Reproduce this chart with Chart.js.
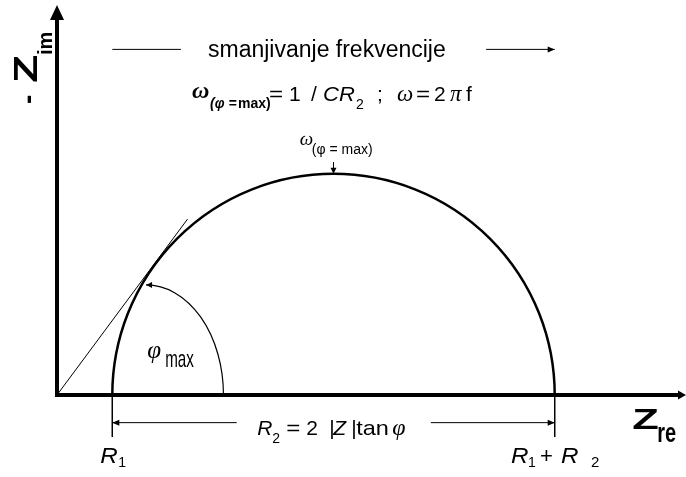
<!DOCTYPE html>
<html>
<head>
<meta charset="utf-8">
<style>
  html, body { margin: 0; padding: 0; background: #fff; }
  canvas { display: block; }
</style>
<script src="https://cdn.jsdelivr.net/npm/chart.js@4.4.1/dist/chart.umd.min.js"></script>
</head>
<body>
<canvas id="chart" width="686" height="477"></canvas>
<script>
// values, in axis units
const R1 = 10;
const R2 = 80;
const zReRange = [0, 113.74];
const zImRange = [0, 71.43];
// tangent from the origin to the semicircle (Zre, -Zim)
const tangentZre = [0, 23.6];
const tangentZim = [0, 31.8];
// angle mark for phi max: centre on Zre, half width, half height
const phiArc = [16.1, 14.0, 19.9];
// where the marker lines under the axis stop, and the dimension line level
const markerDepth = -7.6;
const dimLevel = -5;
const dimGap = [32.5, 67.6];
// "smanjivanje frekvencije" line level and its two pieces
const freqLevel = 62.5;
const freqGap = [22.4, 77.6];
// top of the semicircle arrow
const omegaTick = [42.1, 40.3];

const SANS = '"Liberation Sans", Arial, sans-serif';
const SERIF = '"Liberation Serif", "Times New Roman", serif';

const seg = (xs, ys) => xs.map((x, i) => ({ x: x, y: ys[i] }));
const line = (data, width, cap) => ({
    data: data,
    showLine: true,
    borderColor: '#000',
    borderWidth: width,
    borderCapStyle: cap || 'butt',
    pointRadius: 0,
    clip: false,
    fill: false,
    tension: 0
});

const datasets = [
    line(seg([0, zReRange[1] - 1.3], [0, 0]), 4, 'square'),
    line(seg([0, 0], [0, zImRange[1] - 3]), 4, 'square'),
    line(seg(tangentZre, tangentZim), 1),
    line(seg([R1, R1], [0, markerDepth]), 1),
    line(seg([R1 + R2, R1 + R2], [0, markerDepth]), 1),
    line(seg([dimGap[0], R1], [dimLevel, dimLevel]), 1),
    line(seg([dimGap[1], R1 + R2], [dimLevel, dimLevel]), 1),
    line(seg([R1, freqGap[0]], [freqLevel, freqLevel]), 1),
    line(seg([freqGap[1], R1 + R2], [freqLevel, freqLevel]), 1),
    line(seg([R1 + R2 / 2, R1 + R2 / 2], omegaTick), 1)
];

// arrow heads: tip (u, v), direction in degrees (0 right, 90 up), length, half width
const heads = [
    [zReRange[1], 0, 0, 8, 4.5],
    [0, zImRange[1] - 0.9, 90, 15, 7],
    [R1, dimLevel, 180, 7, 3],
    [R1 + R2, dimLevel, 0, 7, 3],
    [R1 + R2, freqLevel, 0, 7, 3],
    [R1 + R2 / 2, R2 / 2, 270, 6, 3],
    [phiArc[0], phiArc[2], 180, 6, 3]
];

// text groups: anchor (u, v), pieces [text, dx, dy, font, sx, sy]
const texts = [
    { at: [27.3, 61.1], parts: [['smanjivanje frekvencije', 0, 0, '23px ' + SANS]] },
    { at: [24.41, 53.25], parts: [
        ['ω', 0, -3, 'bold italic 24px ' + SERIF],
        ['(φ =', 18, 7.5, 'bold italic 14px ' + SANS],
        ['max)', 46, 7.5, 'bold 14px ' + SANS],
        ['=', 77, 0, '21px ' + SANS, 1.15, 1],
        ['1', 97, 0, '21px ' + SANS],
        ['/', 119, 0, '21px ' + SANS],
        ['CR', 131, 0, 'italic 21px ' + SANS, 1.05, 1],
        ['2', 164, 8, '14px ' + SANS],
        [';', 185, 0, '21px ' + SANS],
        ['ω', 205, 0, 'italic 23px ' + SERIF],
        ['=', 224, 0, '21px ' + SANS, 1.15, 1],
        ['2', 242, 0, '21px ' + SANS],
        ['π', 258, 0, 'italic 23px ' + SERIF],
        ['f', 274, 0, '21px ' + SANS]
    ] },
    { at: [43.9, 45.2], parts: [
        ['ω', 0, 0, 'italic 19px ' + SERIF],
        ['(φ = max)', 12, 9, '14px ' + SANS]
    ] },
    { at: [16.3, 6.7], parts: [
        ['φ', 0, 0, 'italic 25px ' + SERIF],
        ['max', 18, 9, '16px ' + SANS, 0.95, 1.5]
    ] },
    { at: [36.2, -7.2], parts: [
        ['R', 0, 0, 'italic 21px ' + SANS],
        ['2', 15, 8, '14px ' + SANS],
        ['=', 29, 0, '21px ' + SANS, 1.15, 1],
        ['2', 49, 0, '21px ' + SANS],
        ['|', 72, 0, '21px ' + SANS],
        ['Z', 76, 0, 'italic 21px ' + SANS],
        ['|', 94, 0, '21px ' + SANS],
        ['tan', 99, 0, '21px ' + SANS, 1.12, 1],
        ['φ', 135, 0, 'italic 24px ' + SERIF]
    ] },
    { at: [7.8, -12.3], parts: [
        ['R', 0, 0, 'italic 22px ' + SANS, 1.1, 1],
        ['1', 18, 4, '14px ' + SANS]
    ] },
    { at: [82.1, -12.3], parts: [
        ['R', 0, 0, 'italic 22px ' + SANS, 1.1, 1],
        ['1', 17, 4, '14px ' + SANS],
        ['+', 29, 0, '22px ' + SANS],
        ['R', 50, 0, 'italic 22px ' + SANS, 1.1, 1],
        ['2', 80, 4, '15px ' + SANS]
    ] },
    { at: [104.0, -6.1], parts: [
        ['Z', 0, 0, 'bold 29px ' + SANS, 1.5, 1],
        ['re', 25, 13, 'bold 21px ' + SANS, 0.95, 1.3]
    ] },
    { at: [-3.6, 52.8], rotate: -90, parts: [
        ['-', -1, 0, 'bold 28px ' + SANS],
        ['Z', 20, 0, 'bold 33px ' + SANS, 1.4, 1],
        ['im', 48, 15, 'bold 20px ' + SANS]
    ] }
];

const put = (ctx, s, x, y, font, sx, sy) => {
    ctx.save();
    ctx.translate(x, y);
    ctx.scale(sx || 1, sy || 1);
    ctx.font = font;
    ctx.fillText(s, 0, 0);
    ctx.restore();
};

const annotate = {
    id: 'annotate',
    afterDatasetsDraw(chart) {
        const ctx = chart.ctx;
        const px = u => chart.scales.x.getPixelForValue(u);
        const py = v => chart.scales.y.getPixelForValue(v);
        ctx.save();
        ctx.strokeStyle = '#000';
        ctx.fillStyle = '#000';

        // semicircle between R1 and R1 + R2
        const cx = px(R1 + R2 / 2), cy = py(0);
        ctx.lineWidth = 2.5;
        ctx.beginPath();
        ctx.ellipse(cx, cy, px(R1 + R2) - cx, cy - py(R2 / 2), 0, Math.PI, 2 * Math.PI);
        ctx.stroke();

        // angle mark
        const ax = px(phiArc[0]);
        ctx.lineWidth = 1.2;
        ctx.beginPath();
        ctx.ellipse(ax, cy, px(phiArc[0] + phiArc[1]) - ax, cy - py(phiArc[2]), 0, 0, -Math.PI / 2, true);
        ctx.stroke();

        heads.forEach(h => {
            const x = px(h[0]), y = py(h[1]);
            const a = -h[2] * Math.PI / 180;
            ctx.save();
            ctx.translate(x, y);
            ctx.rotate(a);
            ctx.beginPath();
            ctx.moveTo(0, 0);
            ctx.lineTo(-h[3], -h[4]);
            ctx.lineTo(-h[3], h[4]);
            ctx.closePath();
            ctx.fill();
            ctx.restore();
        });

        ctx.textBaseline = 'alphabetic';
        ctx.textAlign = 'left';
        texts.forEach(t => {
            ctx.save();
            ctx.translate(px(t.at[0]), py(t.at[1]));
            if (t.rotate) ctx.rotate(t.rotate * Math.PI / 180);
            t.parts.forEach(p => put(ctx, p[0], p[1], p[2], p[3], p[4], p[5]));
            ctx.restore();
        });
        ctx.restore();
    }
};

new Chart(document.getElementById('chart').getContext('2d'), {
    type: 'scatter',
    data: { datasets: datasets },
    options: {
        responsive: false,
        animation: false,
        events: [],
        layout: { padding: { left: 57, right: 0, top: 0, bottom: 82 } },
        plugins: { legend: { display: false }, tooltip: { enabled: false } },
        scales: {
            x: { type: 'linear', min: zReRange[0], max: zReRange[1], display: false },
            y: { type: 'linear', min: zImRange[0], max: zImRange[1], display: false }
        }
    },
    plugins: [annotate]
});
</script>
</body>
</html>
